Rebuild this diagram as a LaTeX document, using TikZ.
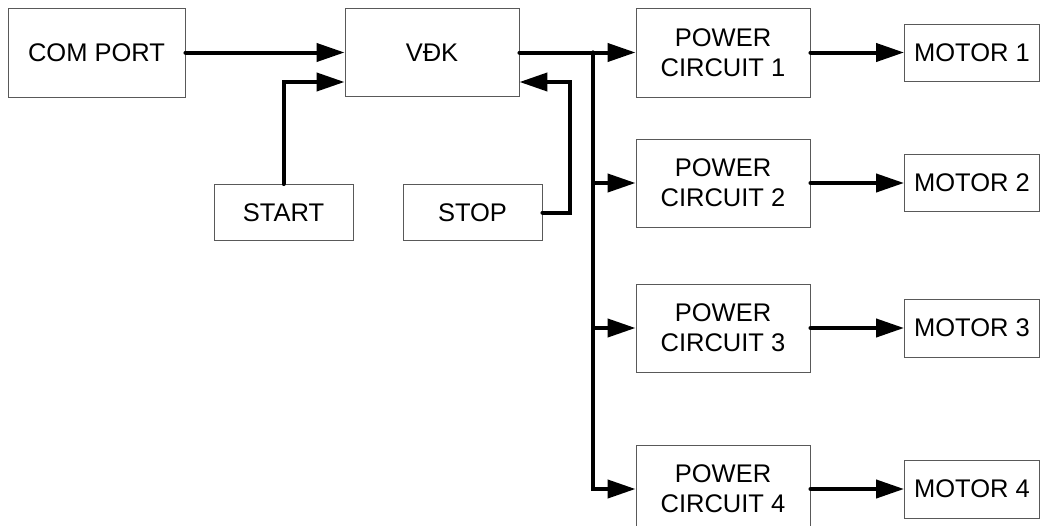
\documentclass[tikz,border=0pt]{standalone}
\usepackage{fontspec}
\setmainfont{Liberation Sans}
\usetikzlibrary{arrows.meta}
\begin{document}
\begin{tikzpicture}[x=1pt,y=-1pt,
  box/.style={draw=black!65, line width=0.9pt, inner sep=0pt, align=center,
    font=\fontsize{25.5}{30}\selectfont},
  arr/.style={line width=4pt, line cap=round,
    -{Triangle[length=28pt,width=18pt]}}]
\useasboundingbox (0,0) rectangle (1041,525);
\clip (0,0) rectangle (1041,525);
% boxes
\node[box, minimum width=177pt, minimum height=89pt] (com) at (96.5,52.5) {COM PORT};
\node[box, minimum width=174pt, minimum height=88pt] (vdk) at (432,52.5) {VĐK};
\node[box, minimum width=139pt, minimum height=56pt] (start) at (283.5,212.5) {START};
\node[box, minimum width=139pt, minimum height=56pt] (stop) at (472.5,212.5) {STOP};
\node[box, minimum width=174pt, minimum height=89pt] (pc1) at (723,52.5) {POWER\\CIRCUIT 1};
\node[box, minimum width=174pt, minimum height=88pt] (pc2) at (723,183) {POWER\\CIRCUIT 2};
\node[box, minimum width=174pt, minimum height=88pt] (pc3) at (723,328) {POWER\\CIRCUIT 3};
\node[box, minimum width=174pt, minimum height=88pt] (pc4) at (723,489) {POWER\\CIRCUIT 4};
\node[box, minimum width=135pt, minimum height=57pt] (m1) at (972,52.5) {MOTOR 1};
\node[box, minimum width=135pt, minimum height=57pt] (m2) at (972,183) {MOTOR 2};
\node[box, minimum width=135pt, minimum height=58pt] (m3) at (972,328) {MOTOR 3};
\node[box, minimum width=135pt, minimum height=58pt] (m4) at (972,489) {MOTOR 4};
% coordinates
\coordinate (sa) at (283.5,82);
\coordinate (sb) at (570,82);
\coordinate (bt) at (593,52.5);
% connectors
\draw[arr] (com.east) -- (vdk.west);
\draw[arr] (start.north) -- (start.north |- sa) -- (vdk.west |- sa);
\draw[arr] (stop.east) -| (sb) -- (vdk.east |- sb);
\draw[arr] (vdk.east) -- (pc1.west);
\draw[arr] (bt) -- (bt |- pc2.west) -- (pc2.west);
\draw[arr] (bt |- pc3.west) -- (pc3.west);
\draw[arr] (bt) |- (pc4.west);
\draw[arr] (pc1.east) -- (m1.west);
\draw[arr] (pc2.east) -- (m2.west);
\draw[arr] (pc3.east) -- (m3.west);
\draw[arr] (pc4.east) -- (m4.west);
\end{tikzpicture}
\end{document}
